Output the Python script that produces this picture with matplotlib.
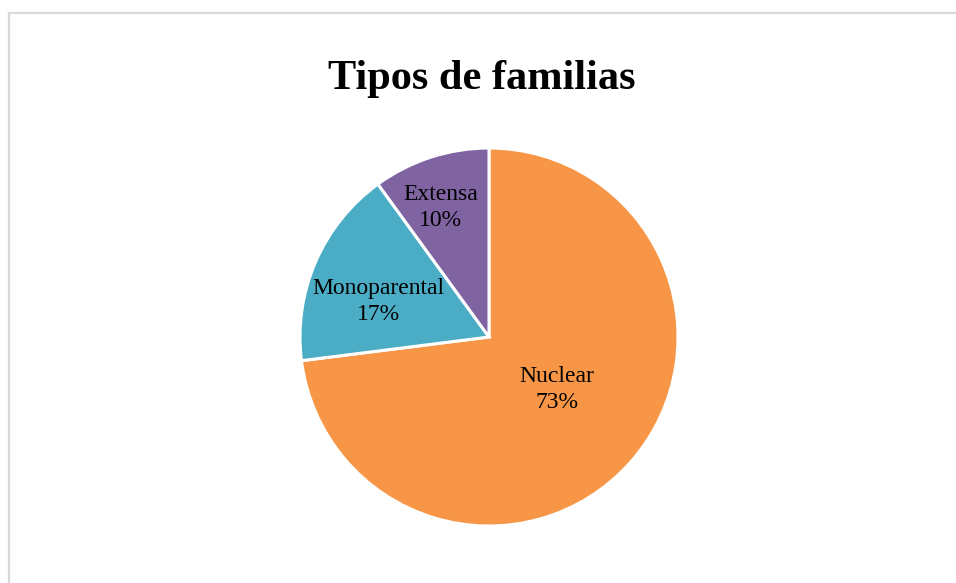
import matplotlib
matplotlib.use("Agg")
import matplotlib.pyplot as plt
from matplotlib.lines import Line2D

categories = ["Nuclear", "Monoparental", "Extensa"]
values = [73, 17, 10]
colors = ["#F79646", "#4BACC6", "#8064A2"]
title = "Tipos de familias"

# label centres in pie-radius units (layout only)
label_pos = [(0.36, -0.28), (-0.585, 0.19), (-0.257, 0.683)]

W, H = 956, 583
fig = plt.figure(figsize=(W / 100, H / 100), dpi=100)
fig.patch.set_facecolor("white")

cx, cy, r = 489, H - 337, 189
ax = fig.add_axes([(cx - r) / W, (cy - r) / H, 2 * r / W, 2 * r / H])
wedges, _ = ax.pie(values, colors=colors, startangle=90, counterclock=False,
                   radius=1.0,
                   wedgeprops=dict(edgecolor="white", linewidth=2.2))
ax.set_xlim(-1.0, 1.0)
ax.set_ylim(-1.0, 1.0)
ax.set_aspect("equal")
ax.axis("off")

total = sum(values)
for cat, val, (x, y) in zip(categories, values, label_pos):
    ax.text(x, y, f"{cat}\n{round(100 * val / total)}%", ha="center", va="center",
            fontsize=17, family="Liberation Serif", color="#000000",
            linespacing=1.32)

fig.text(481.5 / W, (H - 89) / H, title, ha="center", va="baseline",
         fontsize=30.5, fontweight="bold", family="Liberation Serif",
         color="#000000")

# chart frame (only top and left edges visible)
fig.add_artist(Line2D([9 / W, 1.0], [(H - 12.5) / H, (H - 12.5) / H],
                      color="#D9D9D9", linewidth=1.6, transform=fig.transFigure))
fig.add_artist(Line2D([9 / W, 9 / W], [(H - 12.5) / H, 0.0],
                      color="#D9D9D9", linewidth=1.6, transform=fig.transFigure))

fig.savefig("out.png", dpi=100, facecolor="white")
